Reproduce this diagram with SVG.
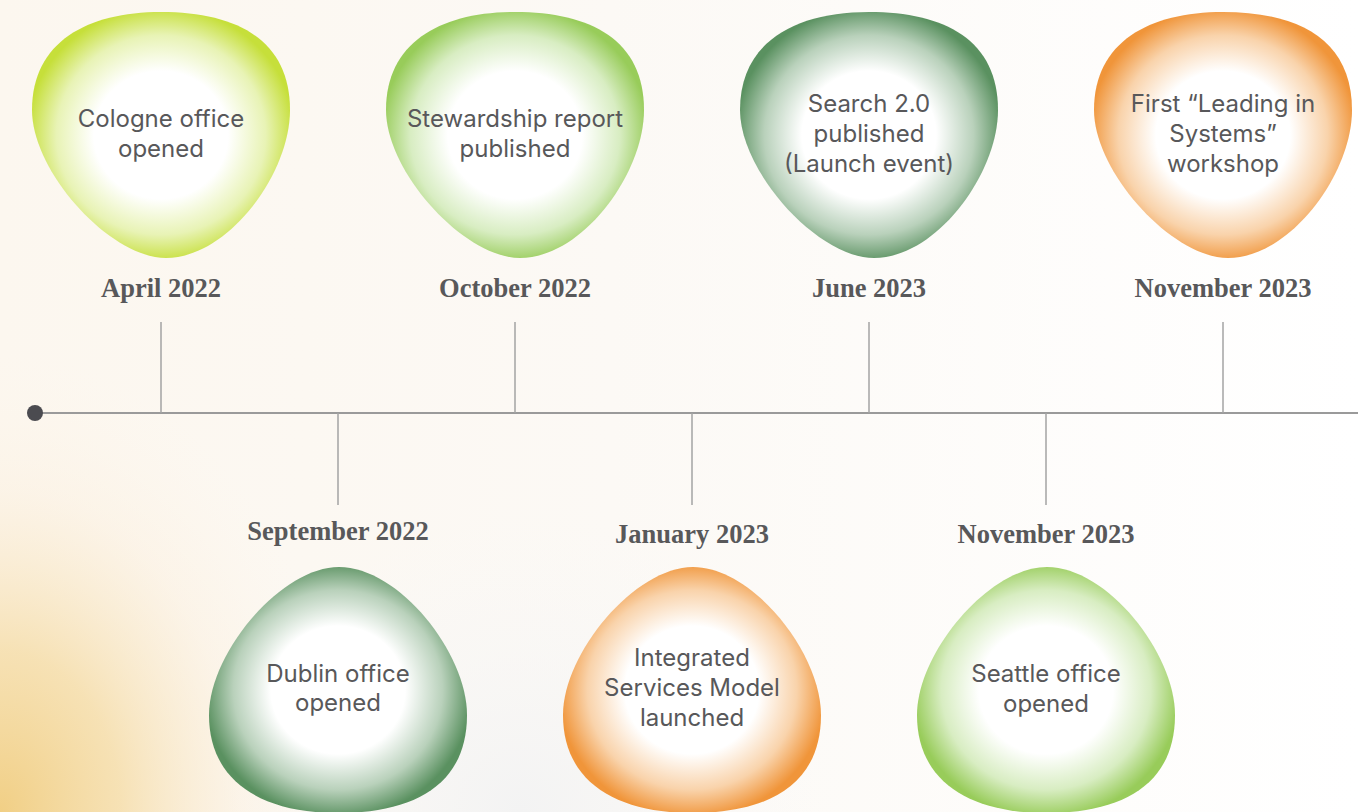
<svg xmlns="http://www.w3.org/2000/svg" width="1358" height="812" viewBox="0 0 1358 812">
<defs>
<linearGradient id="bgWarm" x1="0" y1="0" x2="1" y2="0">
<stop offset="0" stop-color="#fcf7ef"/>
<stop offset="0.45" stop-color="#fcf9f5"/>
<stop offset="1" stop-color="#ffffff"/>
</linearGradient>
<radialGradient id="bgGold" cx="0" cy="812" r="460" gradientUnits="userSpaceOnUse" gradientTransform="translate(0,812) scale(0.75,1) translate(0,-812)">
<stop offset="0" stop-color="#f1cf85"/>
<stop offset="0.35" stop-color="#f5dca6" stop-opacity="0.8"/>
<stop offset="0.7" stop-color="#fbeedb" stop-opacity="0.4"/>
<stop offset="1" stop-color="#fdf6ec" stop-opacity="0"/>
</radialGradient>
<radialGradient id="bgGray" cx="520" cy="812" r="300" gradientUnits="userSpaceOnUse">
<stop offset="0" stop-color="#f3f3f3"/>
<stop offset="1" stop-color="#f8f8f8" stop-opacity="0"/>
</radialGradient>
<radialGradient id="gLime" cx="0.5" cy="0.5" r="0.52">
<stop offset="0" stop-color="#ffffff"/>
<stop offset="0.5" stop-color="#ffffff"/>
<stop offset="0.78" stop-color="#e8f3b5"/>
<stop offset="1" stop-color="#c6df3a"/>
</radialGradient>
<radialGradient id="gLight" cx="0.5" cy="0.5" r="0.52">
<stop offset="0" stop-color="#ffffff"/>
<stop offset="0.5" stop-color="#ffffff"/>
<stop offset="0.78" stop-color="#d8edc2"/>
<stop offset="1" stop-color="#98cc5a"/>
</radialGradient>
<radialGradient id="gDark" cx="0.5" cy="0.5" r="0.52">
<stop offset="0" stop-color="#ffffff"/>
<stop offset="0.5" stop-color="#ffffff"/>
<stop offset="0.78" stop-color="#b9d1bb"/>
<stop offset="1" stop-color="#5a9160"/>
</radialGradient>
<radialGradient id="gOrange" cx="0.5" cy="0.5" r="0.52">
<stop offset="0" stop-color="#ffffff"/>
<stop offset="0.5" stop-color="#ffffff"/>
<stop offset="0.78" stop-color="#f9d3ab"/>
<stop offset="1" stop-color="#f0953a"/>
</radialGradient>
<path id="blobDown" d="M129,0 C205,0 258,28 258,98 C258,162 196,246 134,246 C78,246 0,160 0,98 C0,30 55,0 129,0 Z"/>
<path id="blobUp" d="M129,246 C205,246 258,218 258,148 C258,86 190,0 130,0 C72,0 0,86 0,148 C0,216 55,246 129,246 Z"/>
</defs>
<style>
.body{font-family:Inter,"Liberation Sans",Arial,sans-serif;font-size:24px;fill:#58585a;text-anchor:middle}
.date{font-family:"Liberation Serif","Times New Roman",serif;font-size:26.5px;font-weight:bold;fill:#58585a;text-anchor:middle}
.tick{stroke:#a3a3a3;stroke-width:1.5;fill:none}
.axis{stroke:#9a9a9a;stroke-width:2;fill:none}
</style>
<rect width="1358" height="812" fill="url(#bgWarm)"/>
<rect width="1358" height="812" fill="url(#bgGray)"/>
<rect width="1358" height="812" fill="url(#bgGold)"/>

<g id="connectors">
<line class="axis" x1="35" y1="413" x2="1358" y2="413"/>
<line class="tick" x1="161" y1="322" x2="161" y2="413"/>
<line class="tick" x1="515" y1="322" x2="515" y2="413"/>
<line class="tick" x1="869" y1="322" x2="869" y2="413"/>
<line class="tick" x1="1223" y1="322" x2="1223" y2="413"/>
<line class="tick" x1="338" y1="413" x2="338" y2="505"/>
<line class="tick" x1="692" y1="413" x2="692" y2="505"/>
<line class="tick" x1="1046" y1="413" x2="1046" y2="505"/>
<circle cx="35" cy="413" r="8" fill="#4b4b50"/>
</g>

<g id="n-apr2022">
<use href="#blobDown" x="32" y="12" fill="url(#gLime)"/>
<text class="body" x="161" y="127">Cologne office</text>
<text class="body" x="161" y="157">opened</text>
<text class="date" x="161" y="297">April 2022</text>
</g>
<g id="n-oct2022">
<use href="#blobDown" x="386" y="12" fill="url(#gLight)"/>
<text class="body" x="515" y="127">Stewardship report</text>
<text class="body" x="515" y="157">published</text>
<text class="date" x="515" y="297">October 2022</text>
</g>
<g id="n-jun2023">
<use href="#blobDown" x="740" y="12" fill="url(#gDark)"/>
<text class="body" x="869" y="112">Search 2.0</text>
<text class="body" x="869" y="142">published</text>
<text class="body" x="869" y="172">(Launch event)</text>
<text class="date" x="869" y="297">June 2023</text>
</g>
<g id="n-nov2023a">
<use href="#blobDown" x="1094" y="12" fill="url(#gOrange)"/>
<text class="body" x="1223" y="112">First “Leading in</text>
<text class="body" x="1223" y="142">Systems”</text>
<text class="body" x="1223" y="172">workshop</text>
<text class="date" x="1223" y="297">November 2023</text>
</g>
<g id="n-sep2022">
<text class="date" x="338" y="540">September 2022</text>
<use href="#blobUp" x="209" y="567" fill="url(#gDark)"/>
<text class="body" x="338" y="682">Dublin office</text>
<text class="body" x="338" y="711">opened</text>
</g>
<g id="n-jan2023">
<text class="date" x="692" y="543">January 2023</text>
<use href="#blobUp" x="563" y="567" fill="url(#gOrange)"/>
<text class="body" x="692" y="666">Integrated</text>
<text class="body" x="692" y="696">Services Model</text>
<text class="body" x="692" y="726">launched</text>
</g>
<g id="n-nov2023b">
<text class="date" x="1046" y="543">November 2023</text>
<use href="#blobUp" x="917" y="567" fill="url(#gLight)"/>
<text class="body" x="1046" y="682">Seattle office</text>
<text class="body" x="1046" y="712">opened</text>
</g>
</svg>
